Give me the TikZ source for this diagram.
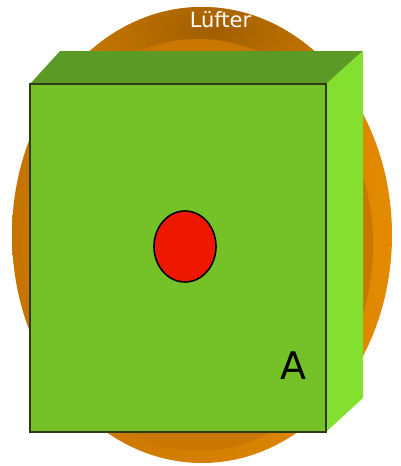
\documentclass[tikz,border=0pt]{standalone}
\usepackage{fontspec}
\setmainfont{DejaVu Sans}
\usepackage{tikz}
\usetikzlibrary{shapes.geometric}
\definecolor{fanDark}{HTML}{A05E00}
\definecolor{fanMid}{HTML}{C47400}
\definecolor{fanLight}{HTML}{E28A00}
\definecolor{boxFront}{HTML}{74C128}
\definecolor{boxTop}{HTML}{5A9A25}
\definecolor{boxSide}{HTML}{84E02E}
\definecolor{boxEdge}{HTML}{2E3A18}
\definecolor{knobRed}{HTML}{EE1800}
\tikzset{
  fanouter/.style={shading=axis,left color=fanMid,right color=fanLight},
  fancap/.style={shading=radial,inner color=fanDark,outer color=fanMid!70!fanLight},
  faninner/.style={fill=fanMid!85!fanLight},
  knob/.style={ellipse,draw=black,line width=1.6pt,fill=knobRed,minimum width=62pt,
    minimum height=71pt,inner sep=0pt},
  tag/.style={font=\fontsize{21}{25}\selectfont,text=white,inner sep=0pt},
  letter/.style={font=\fontsize{38}{44}\selectfont,text=black,inner sep=0pt}
}

\begin{document}
\begin{tikzpicture}[x=1pt,y=-1pt]
 \useasboundingbox (0,0) rectangle (400,466);
 % fan behind the box
 \path[fanouter] (202,235) ellipse [x radius=190,y radius=228];
 \begin{scope}
  \clip (202,235) ellipse [x radius=190,y radius=228];
  \path[fancap] (212,30) ellipse [x radius=150,y radius=70];
 \end{scope}
 \path[faninner] (198,245) ellipse [x radius=175,y radius=206];
 \node[tag] (fan) at (220.5,20) {Lüfter};
 % box
 \fill[boxTop] (30,84) -- (60,51) -- (363,51) -- (326,84) -- cycle;
 \fill[boxSide] (326,84) -- (363,51) -- (363,398) -- (326,432) -- cycle;
 \filldraw[fill=boxFront,draw=boxEdge,line width=1.2pt] (30,84) rectangle (326,432);
 \node[knob] (knob) at (185,246.5) {};
 \node[letter] (label) at (293,366) {A};
\end{tikzpicture}
\end{document}
